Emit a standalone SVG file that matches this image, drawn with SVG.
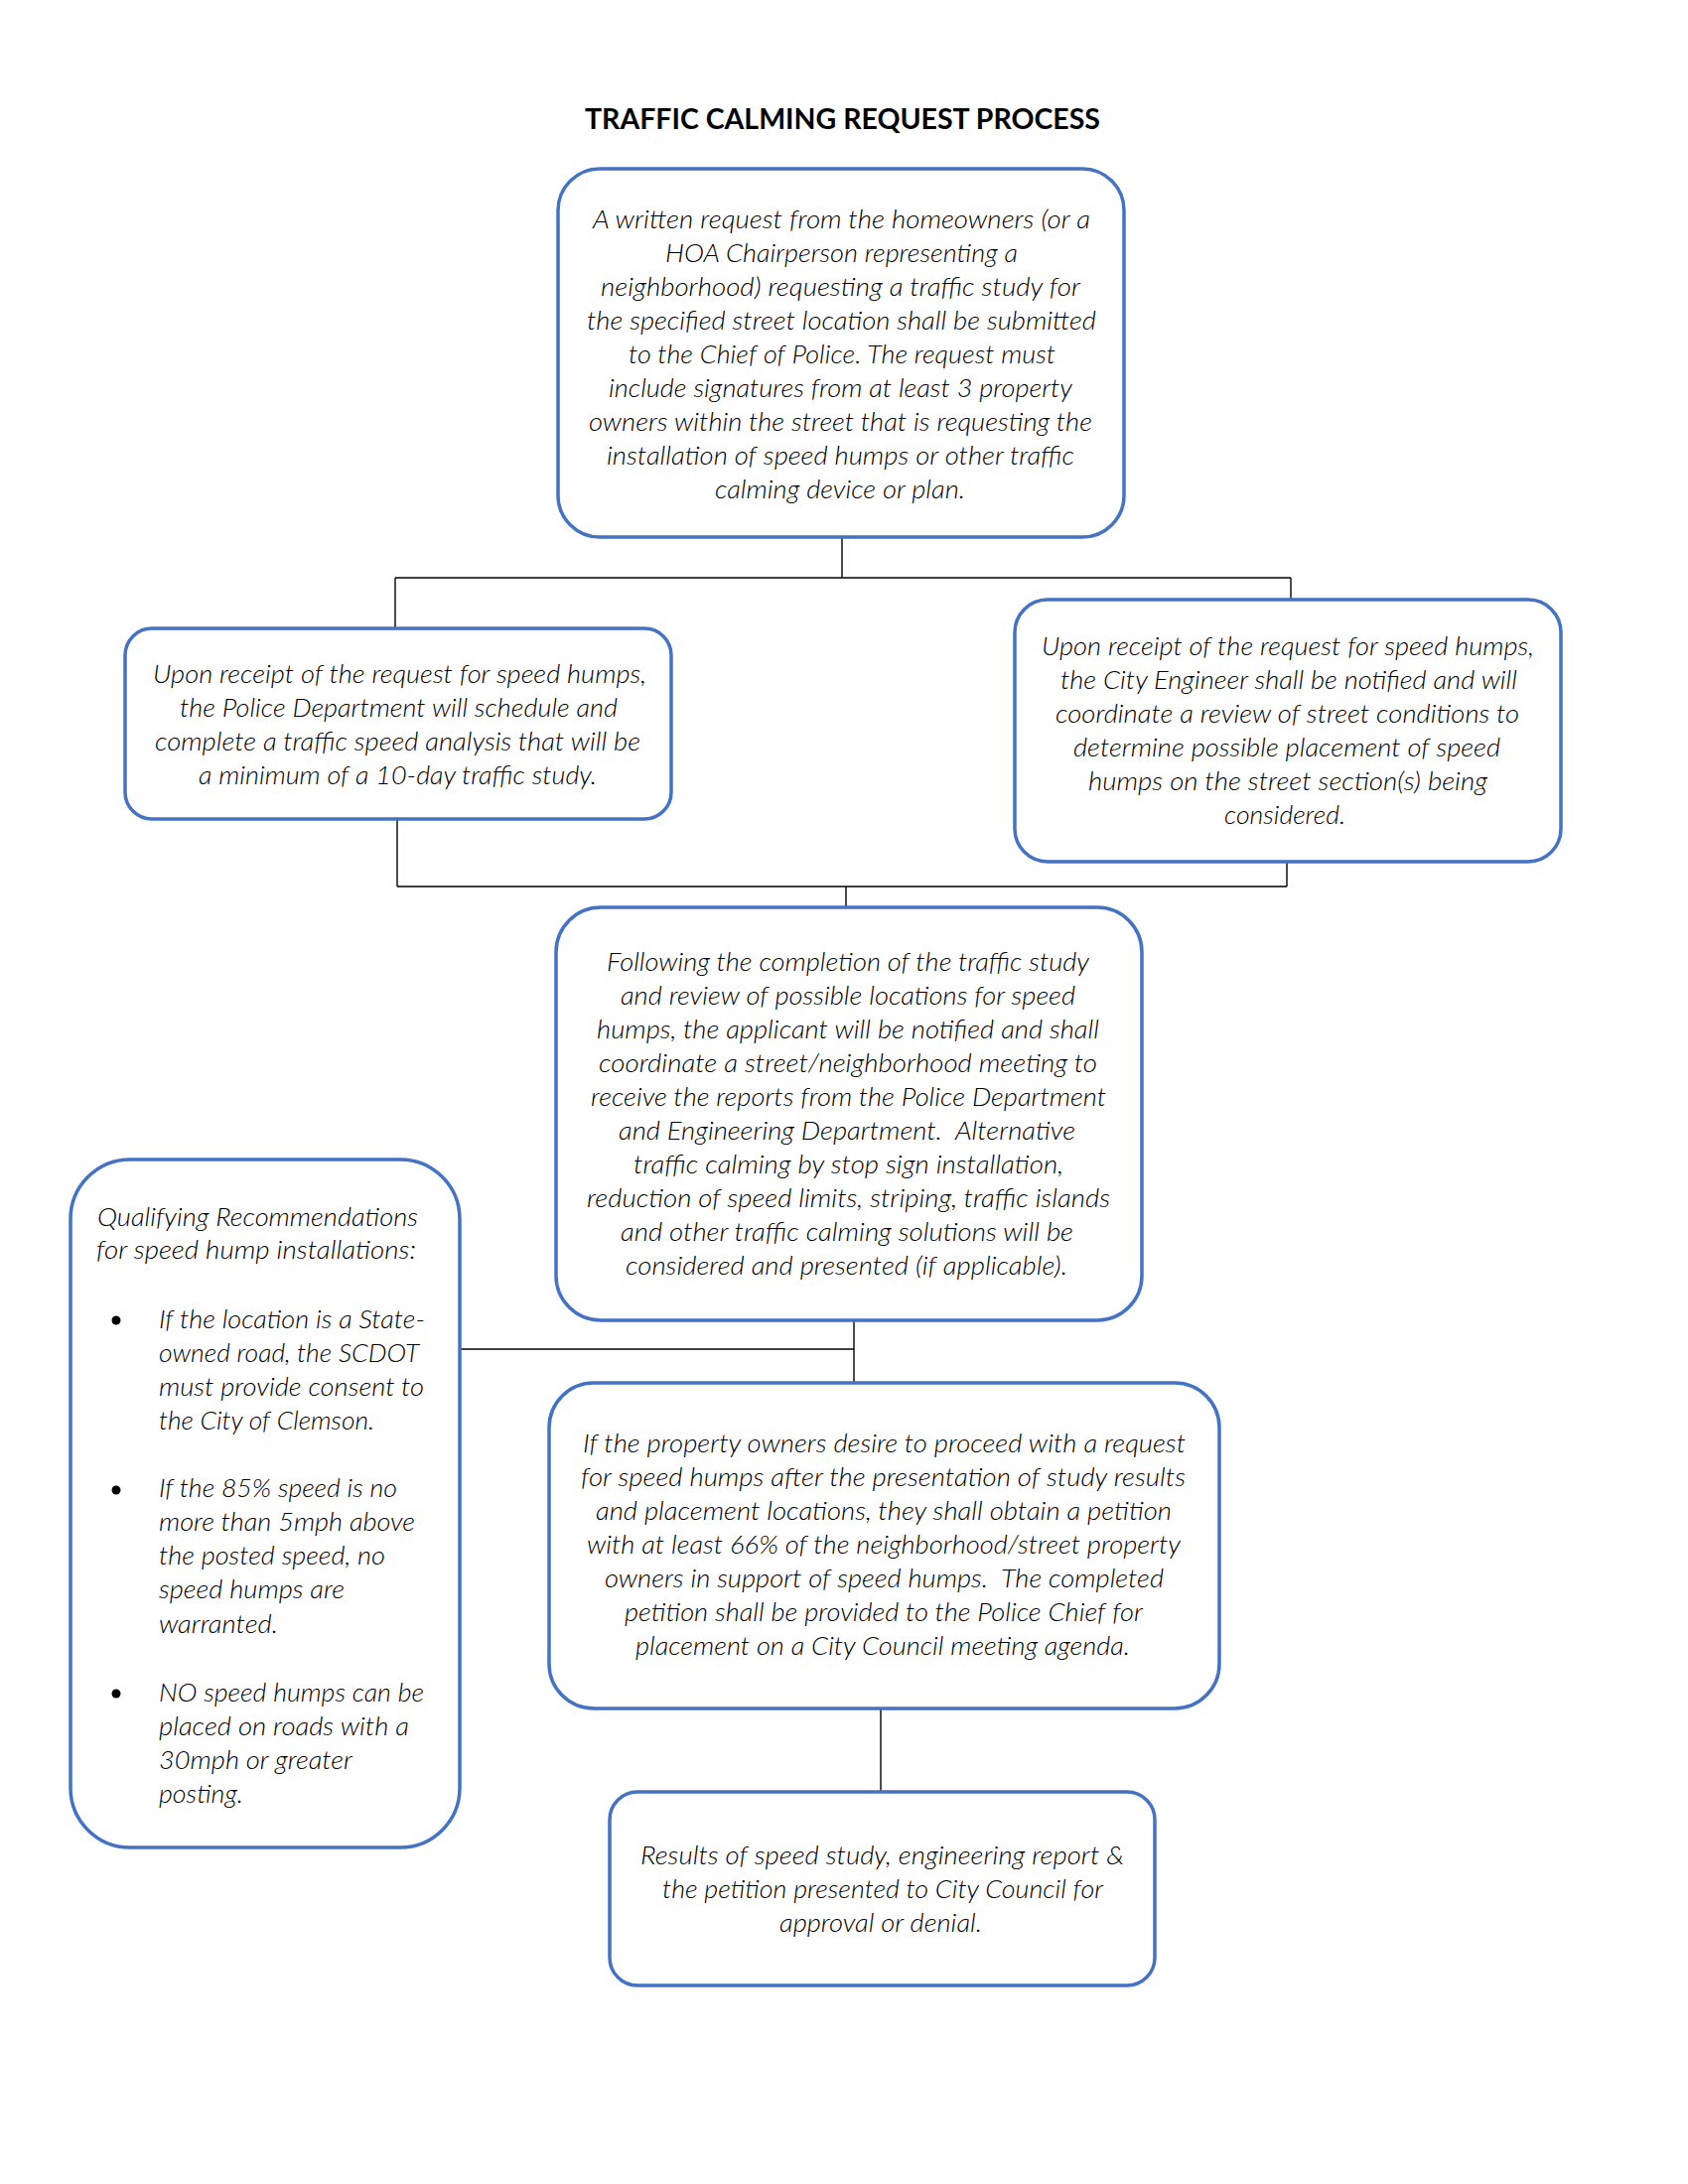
<svg xmlns="http://www.w3.org/2000/svg" width="1700" height="2200" viewBox="0 0 1700 2200">
<style>
.box{fill:#ffffff;stroke:#4472C4;stroke-width:3.5}
.con line{stroke:#000000;stroke-width:1.4}
.t{font-family:Lato,"Open Sans","Liberation Sans",sans-serif;font-style:italic;font-weight:300;font-size:26px;fill:#000000}
.title{font-family:Lato,"Liberation Sans",sans-serif;font-weight:700;font-size:28px;fill:#000000}
</style>
<rect width="1700" height="2200" fill="#ffffff"/>
<text class="title" x="589" y="130" textLength="519" lengthAdjust="spacingAndGlyphs">TRAFFIC CALMING REQUEST PROCESS</text>

<g id="connectors" class="con">
<line x1="848" y1="541" x2="848" y2="582"/>
<line x1="398" y1="582" x2="1300" y2="582"/>
<line x1="398" y1="582" x2="398" y2="633"/>
<line x1="1300" y1="582" x2="1300" y2="604"/>
<line x1="400" y1="825" x2="400" y2="893"/>
<line x1="1296" y1="868" x2="1296" y2="893"/>
<line x1="400" y1="893" x2="1296" y2="893"/>
<line x1="852" y1="893" x2="852" y2="914"/>
<line x1="860" y1="1330" x2="860" y2="1393"/>
<line x1="463" y1="1359" x2="860" y2="1359"/>
<line x1="887" y1="1721" x2="887" y2="1805"/>
</g>

<g id="request">
<rect class="box" x="562" y="170" width="570" height="371" rx="42"/>
<text class="t" x="597" y="230" textLength="501" lengthAdjust="spacingAndGlyphs">A written request from the homeowners (or a</text>
<text class="t" x="670" y="264" textLength="355" lengthAdjust="spacingAndGlyphs">HOA Chairperson representing a</text>
<text class="t" x="605" y="298" textLength="483" lengthAdjust="spacingAndGlyphs">neighborhood) requesting a traffic study for</text>
<text class="t" x="591" y="332" textLength="513" lengthAdjust="spacingAndGlyphs">the specified street location shall be submitted</text>
<text class="t" x="633" y="366" textLength="430" lengthAdjust="spacingAndGlyphs">to the Chief of Police. The request must</text>
<text class="t" x="613" y="400" textLength="467" lengthAdjust="spacingAndGlyphs">include signatures from at least 3 property</text>
<text class="t" x="593" y="434" textLength="507" lengthAdjust="spacingAndGlyphs">owners within the street that is requesting the</text>
<text class="t" x="611" y="468" textLength="471" lengthAdjust="spacingAndGlyphs">installation of speed humps or other traffic</text>
<text class="t" x="720" y="502" textLength="252" lengthAdjust="spacingAndGlyphs">calming device or plan.</text>
</g>

<g id="police">
<rect class="box" x="126" y="633" width="550" height="192" rx="27"/>
<text class="t" x="154" y="688" textLength="497" lengthAdjust="spacingAndGlyphs">Upon receipt of the request for speed humps,</text>
<text class="t" x="181" y="722" textLength="441" lengthAdjust="spacingAndGlyphs">the Police Department will schedule and</text>
<text class="t" x="156" y="756" textLength="489" lengthAdjust="spacingAndGlyphs">complete a traffic speed analysis that will be</text>
<text class="t" x="200" y="790" textLength="401" lengthAdjust="spacingAndGlyphs">a minimum of a 10-day traffic study.</text>
</g>

<g id="engineer">
<rect class="box" x="1022" y="604" width="550" height="264" rx="33"/>
<text class="t" x="1049" y="660" textLength="496" lengthAdjust="spacingAndGlyphs">Upon receipt of the request for speed humps,</text>
<text class="t" x="1068" y="694" textLength="460" lengthAdjust="spacingAndGlyphs">the City Engineer shall be notified and will</text>
<text class="t" x="1063" y="728" textLength="467" lengthAdjust="spacingAndGlyphs">coordinate a review of street conditions to</text>
<text class="t" x="1081" y="762" textLength="430" lengthAdjust="spacingAndGlyphs">determine possible placement of speed</text>
<text class="t" x="1096" y="796" textLength="402" lengthAdjust="spacingAndGlyphs">humps on the street section(s) being</text>
<text class="t" x="1233" y="830" textLength="122" lengthAdjust="spacingAndGlyphs">considered.</text>
</g>

<g id="meeting">
<rect class="box" x="560" y="914" width="590" height="416" rx="45"/>
<text class="t" x="611" y="978" textLength="486" lengthAdjust="spacingAndGlyphs">Following the completion of the traffic study</text>
<text class="t" x="625" y="1012" textLength="458" lengthAdjust="spacingAndGlyphs">and review of possible locations for speed</text>
<text class="t" x="601" y="1046" textLength="506" lengthAdjust="spacingAndGlyphs">humps, the applicant will be notified and shall</text>
<text class="t" x="603" y="1080" textLength="502" lengthAdjust="spacingAndGlyphs">coordinate a street/neighborhood meeting to</text>
<text class="t" x="595" y="1114" textLength="519" lengthAdjust="spacingAndGlyphs">receive the reports from the Police Department</text>
<text class="t" x="623" y="1148" textLength="460" lengthAdjust="spacingAndGlyphs" xml:space="preserve">and Engineering Department.  Alternative</text>
<text class="t" x="638" y="1182" textLength="433" lengthAdjust="spacingAndGlyphs">traffic calming by stop sign installation,</text>
<text class="t" x="591" y="1216" textLength="527" lengthAdjust="spacingAndGlyphs">reduction of speed limits, striping, traffic islands</text>
<text class="t" x="625" y="1250" textLength="456" lengthAdjust="spacingAndGlyphs">and other traffic calming solutions will be</text>
<text class="t" x="630" y="1284" textLength="445" lengthAdjust="spacingAndGlyphs">considered and presented (if applicable).</text>
</g>

<g id="qualifying">
<rect class="box" x="71" y="1168" width="392" height="693" rx="60"/>
<text class="t" x="98" y="1235" textLength="323" lengthAdjust="spacingAndGlyphs">Qualifying Recommendations</text>
<text class="t" x="97" y="1268" textLength="322" lengthAdjust="spacingAndGlyphs">for speed hump installations:</text>
<circle cx="117" cy="1330" r="4.5" fill="#000000"/>
<circle cx="117" cy="1501" r="4.5" fill="#000000"/>
<circle cx="117" cy="1706" r="4.5" fill="#000000"/>
<text class="t" x="160" y="1338" textLength="268" lengthAdjust="spacingAndGlyphs">If the location is a State-</text>
<text class="t" x="160" y="1372" textLength="262" lengthAdjust="spacingAndGlyphs">owned road, the SCDOT</text>
<text class="t" x="160" y="1406" textLength="267" lengthAdjust="spacingAndGlyphs">must provide consent to</text>
<text class="t" x="160" y="1440" textLength="217" lengthAdjust="spacingAndGlyphs">the City of Clemson.</text>
<text class="t" x="160" y="1508" textLength="240" lengthAdjust="spacingAndGlyphs">If the 85% speed is no</text>
<text class="t" x="160" y="1542" textLength="258" lengthAdjust="spacingAndGlyphs">more than 5mph above</text>
<text class="t" x="160" y="1576" textLength="228" lengthAdjust="spacingAndGlyphs">the posted speed, no</text>
<text class="t" x="160" y="1610" textLength="187" lengthAdjust="spacingAndGlyphs">speed humps are</text>
<text class="t" x="160" y="1645" textLength="120" lengthAdjust="spacingAndGlyphs">warranted.</text>
<text class="t" x="160" y="1714" textLength="267" lengthAdjust="spacingAndGlyphs">NO speed humps can be</text>
<text class="t" x="160" y="1748" textLength="252" lengthAdjust="spacingAndGlyphs">placed on roads with a</text>
<text class="t" x="160" y="1782" textLength="195" lengthAdjust="spacingAndGlyphs">30mph or greater</text>
<text class="t" x="160" y="1816" textLength="85" lengthAdjust="spacingAndGlyphs">posting.</text>
</g>

<g id="petition">
<rect class="box" x="553" y="1393" width="675" height="328" rx="45"/>
<text class="t" x="587" y="1463" textLength="607" lengthAdjust="spacingAndGlyphs">If the property owners desire to proceed with a request</text>
<text class="t" x="585" y="1497" textLength="609" lengthAdjust="spacingAndGlyphs">for speed humps after the presentation of study results</text>
<text class="t" x="600" y="1531" textLength="580" lengthAdjust="spacingAndGlyphs">and placement locations, they shall obtain a petition</text>
<text class="t" x="591" y="1565" textLength="598" lengthAdjust="spacingAndGlyphs">with at least 66% of the neighborhood/street property</text>
<text class="t" x="609" y="1599" textLength="563" lengthAdjust="spacingAndGlyphs" xml:space="preserve">owners in support of speed humps.  The completed</text>
<text class="t" x="629" y="1633" textLength="522" lengthAdjust="spacingAndGlyphs">petition shall be provided to the Police Chief for</text>
<text class="t" x="640" y="1667" textLength="498" lengthAdjust="spacingAndGlyphs">placement on a City Council meeting agenda.</text>
</g>

<g id="council">
<rect class="box" x="614" y="1805" width="549" height="195" rx="28"/>
<text class="t" x="645" y="1878" textLength="487" lengthAdjust="spacingAndGlyphs">Results of speed study, engineering report &amp;</text>
<text class="t" x="667" y="1912" textLength="444" lengthAdjust="spacingAndGlyphs">the petition presented to City Council for</text>
<text class="t" x="785" y="1946" textLength="204" lengthAdjust="spacingAndGlyphs">approval or denial.</text>
</g>
</svg>
